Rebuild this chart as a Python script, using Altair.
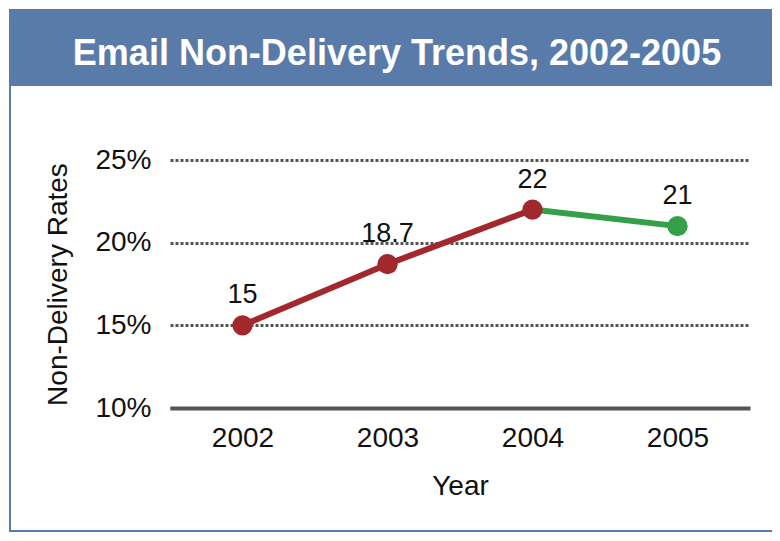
import altair as alt
import pandas as pd

# ---- data ----
years = ["2002", "2003", "2004", "2005"]
rates = [15, 18.7, 22, 21]
rate_labels = ["15", "18.7", "22", "21"]
point_colors = ["#A3282E", "#A3282E", "#A3282E", "#35A049"]
y_ticks = [10, 15, 20, 25]

title_text = "Email Non-Delivery Trends, 2002-2005"
FONT = "Liberation Sans, Arial, sans-serif"
BLUE = "#587BAA"
INK = "#111111"

pts = pd.DataFrame({"Year": years, "Rate": rates, "Label": rate_labels, "Color": point_colors})

# line segments, coloured by their end point
seg_rows = []
for i in range(len(years) - 1):
    for j in (i, i + 1):
        seg_rows.append({"Year": years[j], "Rate": rates[j], "Seg": i, "Color": point_colors[i + 1]})
segs = pd.DataFrame(seg_rows)

x_enc = alt.X(
    "Year:O",
    sort=years,
    scale=alt.Scale(type="point", padding=0.5),
    axis=alt.Axis(
        title="Year", labelAngle=0, ticks=False, tickSize=0, grid=False,
        domain=True, domainColor="#555555", domainWidth=4,
        labelFont=FONT, labelFontSize=28, labelColor=INK, labelPadding=16,
        titleFont=FONT, titleFontSize=28, titleFontWeight="normal", titleColor=INK,
        titlePadding=20,
    ),
)
y_enc = alt.Y(
    "Rate:Q",
    scale=alt.Scale(domain=[10, 25], nice=False, zero=False),
    axis=alt.Axis(
        title="Non-Delivery Rates", values=y_ticks, labelExpr="datum.value + '%'",
        ticks=False, tickSize=0, domain=False,
        grid=True, gridColor="#555555", gridWidth=3, gridDash=[3, 2],
        labelFont=FONT, labelFontSize=28, labelColor=INK, labelPadding=19,
        titleFont=FONT, titleFontSize=28, titleFontWeight="normal", titleColor=INK,
        titlePadding=22,
    ),
)

one = alt.Data(values=[{"t": title_text}])

band = alt.Chart(one).mark_rect(fill=BLUE, clip=False).encode(
    x=alt.value(-161), x2=alt.value(640), y=alt.value(-151), y2=alt.value(-74)
)
frame = alt.Chart(one).mark_rect(fillOpacity=0, stroke=BLUE, strokeWidth=2, clip=False).encode(
    x=alt.value(-160), x2=alt.value(640), y=alt.value(-150), y2=alt.value(371)
)
title = alt.Chart(one).mark_text(
    font=FONT, fontSize=36, fontWeight="bold", color="white",
    align="center", baseline="alphabetic", clip=False,
).encode(x=alt.value(227), y=alt.value(-95), text="t:N")

lines = alt.Chart(segs).mark_line(strokeWidth=6).encode(
    x=x_enc, y=y_enc, detail="Seg:N", color=alt.Color("Color:N", scale=None)
)
points = alt.Chart(pts).mark_point(filled=True, size=415, opacity=1, shape="circle").encode(
    x=x_enc, y=y_enc, color=alt.Color("Color:N", scale=None)
)
labels = alt.Chart(pts).mark_text(
    font=FONT, fontSize=27, color=INK, baseline="middle", dy=-30
).encode(x=x_enc, y=y_enc, text="Label:N")

chart = alt.layer(band, frame, title, lines, points, labels).properties(
    width=580, height=248,
    autosize=alt.AutoSizeParams(type="none"),
    padding={"left": 162, "top": 152, "right": 22, "bottom": 125},
    background="white",
).configure_view(stroke=None)

chart.save("out.html", embed_options={"renderer": "svg", "actions": False})
